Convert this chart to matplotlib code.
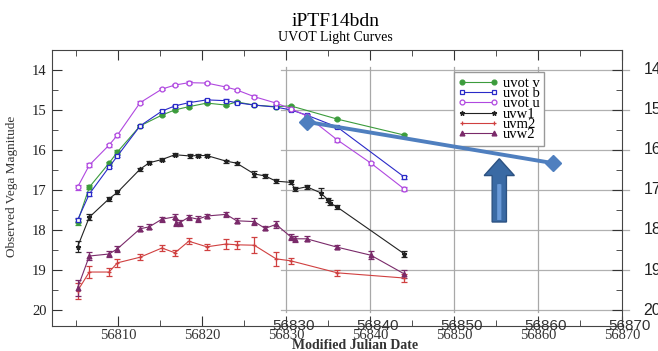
import matplotlib
matplotlib.use("Agg")
import matplotlib.pyplot as plt
from matplotlib.lines import Line2D
from matplotlib.patches import FancyArrow
from matplotlib.ticker import MultipleLocator

plt.rcParams["font.family"] = ["Liberation Serif", "DejaVu Serif"]

# epochs (MJD) and magnitudes
v_mjd = [56805.15, 56806.55, 56808.9, 56809.9, 56812.6, 56815.2, 56816.75, 56818.4,
         56820.55, 56822.85, 56824.1, 56826.2, 56828.8, 56830.55, 56836.1, 56844.1]
v_mag = [17.8, 16.93, 16.33, 16.05, 15.4, 15.13, 15.0, 14.92,
         14.83, 14.88, 14.8, 14.88, 14.92, 14.9, 15.23, 15.63]
v_err = [0.08, 0.05, 0.04, 0.04, 0.03, 0.03, 0.03, 0.03,
         0.03, 0.03, 0.03, 0.03, 0.03, 0.03, 0.03, 0.04]

b_mjd = [56805.15, 56806.55, 56808.9, 56809.9, 56812.6, 56815.2, 56816.75, 56818.4,
         56820.55, 56822.85, 56824.1, 56826.2, 56828.8, 56830.55, 56832.45, 56836.1, 56844.1]
b_mag = [17.75, 17.1, 16.43, 16.15, 15.4, 15.03, 14.9, 14.82,
         14.75, 14.77, 14.82, 14.88, 14.93, 15.0, 15.13, 15.43, 16.68]
b_err = [0.06, 0.04, 0.03, 0.03, 0.03, 0.03, 0.03, 0.03,
         0.03, 0.03, 0.03, 0.03, 0.03, 0.03, 0.03, 0.03, 0.04]

u_mjd = [56805.15, 56806.55, 56808.9, 56809.9, 56812.6, 56815.2, 56816.75, 56818.4,
         56820.55, 56822.85, 56824.1, 56826.2, 56828.8, 56830.55, 56832.45, 56836.1,
         56840.1, 56844.1]
u_mag = [16.93, 16.38, 15.88, 15.63, 14.82, 14.48, 14.38, 14.32,
         14.33, 14.43, 14.5, 14.67, 14.83, 14.97, 15.15, 15.75,
         16.33, 16.98]
u_err = [0.06, 0.05, 0.04, 0.04, 0.03, 0.03, 0.03, 0.03,
         0.03, 0.03, 0.03, 0.03, 0.03, 0.03, 0.03, 0.04,
         0.04, 0.05]

w1_mjd = [56805.15, 56806.55, 56808.9, 56809.9, 56812.6, 56813.7, 56815.2, 56816.75,
          56818.5, 56819.5, 56820.55, 56822.85, 56824.1, 56826.2, 56827.5, 56828.8,
          56830.55, 56831.1, 56832.45, 56834.1, 56835.0, 56835.2, 56836.1, 56844.1]
w1_mag = [18.42, 17.68, 17.22, 17.06, 16.48, 16.32, 16.24, 16.12,
          16.15, 16.14, 16.14, 16.28, 16.33, 16.6, 16.65, 16.78,
          16.81, 16.98, 16.92, 17.07, 17.25, 17.32, 17.43, 18.6]
w1_err = [0.14, 0.08, 0.05, 0.05, 0.04, 0.04, 0.04, 0.04,
          0.04, 0.04, 0.04, 0.04, 0.04, 0.07, 0.05, 0.05,
          0.05, 0.05, 0.05, 0.12, 0.06, 0.06, 0.05, 0.08]

m2_mjd = [56805.15, 56806.55, 56808.9, 56809.9, 56812.6, 56815.2, 56816.75, 56818.4,
          56820.55, 56822.85, 56824.1, 56826.2, 56828.8, 56830.55, 56836.1, 56844.1]
m2_mag = [19.52, 19.05, 19.05, 18.82, 18.68, 18.45, 18.57, 18.28,
          18.42, 18.35, 18.37, 18.38, 18.72, 18.77, 19.07, 19.2]
m2_err = [0.2, 0.15, 0.1, 0.1, 0.08, 0.07, 0.08, 0.07,
          0.08, 0.12, 0.1, 0.2, 0.17, 0.08, 0.08, 0.1]

w2_mjd = [56805.15, 56806.55, 56808.9, 56809.9, 56812.6, 56813.7, 56815.2, 56816.75,
          56816.9, 56817.3, 56818.4, 56819.5, 56820.55, 56822.85, 56824.1, 56826.2,
          56827.5, 56828.8, 56830.55, 56831.1, 56832.45, 56836.1, 56840.1, 56844.1]
w2_mag = [19.45, 18.65, 18.6, 18.47, 17.97, 17.92, 17.73, 17.67,
          17.82, 17.82, 17.68, 17.73, 17.65, 17.61, 17.77, 17.79,
          17.96, 17.86, 18.17, 18.22, 18.22, 18.43, 18.63, 19.1]
w2_err = [0.2, 0.1, 0.07, 0.07, 0.06, 0.06, 0.06, 0.06,
          0.08, 0.08, 0.06, 0.08, 0.06, 0.07, 0.06, 0.09,
          0.05, 0.08, 0.07, 0.07, 0.06, 0.05, 0.1, 0.1]

# pasted-in blue trend line and arrow
trend_mjd = [56832.5, 56861.8]
trend_mag = [15.3, 16.33]
arrow_x, arrow_base, arrow_tip = 56855.4, 17.8, 16.22

overlay_mags = [14, 15, 16, 17, 18, 19, 20]
overlay_days = [56830, 56840, 56850, 56860]
overlay_xlabels = [56830, 56840, 56850, 56860, 56870]

fig = plt.figure(figsize=(6.58, 3.51), dpi=100)
ax = fig.add_axes([0.079, 0.071, 0.866, 0.787])

# overlay grid (drawn first, underneath)
for m in overlay_mags:
    ax.plot([56829.4, 56870.8], [m, m], color="#b0b0b0", lw=0.9, zorder=1, clip_on=False)
for d in overlay_days:
    ax.plot([d, d], [13.92, 20.05], color="#a8a8a8", lw=0.9, zorder=1)

series = [
    ("uvot v", v_mjd, v_mag, v_err, "#3c9c3c", "o", "#3c9c3c"),
    ("uvot b", b_mjd, b_mag, b_err, "#2a2ac8", "s", "white"),
    ("uvot u", u_mjd, u_mag, u_err, "#b048e0", "o", "white"),
    ("uvw1", w1_mjd, w1_mag, w1_err, "#222222", "*", "#222222"),
    ("uvm2", m2_mjd, m2_mag, m2_err, "#d04040", "+", "#d04040"),
    ("uvw2", w2_mjd, w2_mag, w2_err, "#7a2a6a", "^", "#7a2a6a"),
]
handles = []
for name, x, y, e, c, mk, fc in series:
    ax.errorbar(x, y, yerr=e, color=c, marker=mk, mfc=fc, mec=c, ms=3.5, mew=0.9,
                lw=0.8, elinewidth=0.9, capsize=2, zorder=3)
    handles.append(Line2D([], [], color=c, marker=mk, mfc=fc, mec=c, ms=3.5, mew=0.9,
                          lw=0.8, label=name))

leg = ax.legend(handles=handles, loc="upper left", bbox_to_anchor=(0.692, 0.945),
                fontsize=10.5, numpoints=2, handlelength=2.8, handletextpad=0.3,
                labelspacing=-0.2, borderpad=0.3, fancybox=False, framealpha=1,
                edgecolor="#999999")
leg.set_zorder(5)

# blue trend line and arrow
ax.plot(trend_mjd, trend_mag, color="#4f7fbf", lw=2.8, marker="D", ms=8, zorder=6)
ax.add_patch(FancyArrow(arrow_x, arrow_base, 0, arrow_tip - arrow_base, width=1.7,
                        head_width=3.6, head_length=0.42, length_includes_head=True,
                        fc="#3a6aa4", ec="#2c5282", lw=1, zorder=6))
ax.add_patch(FancyArrow(arrow_x, arrow_base - 0.05, 0, -0.9, width=0.5,
                        head_width=0.5, head_length=0.01, length_includes_head=True,
                        fc="#6a9ad8", ec="none", zorder=7))

ax.set_xlim(56802.1, 56870)
ax.set_ylim(20.4, 13.5)
ax.xaxis.set_major_locator(MultipleLocator(10))
ax.xaxis.set_minor_locator(MultipleLocator(5))
ax.yaxis.set_major_locator(MultipleLocator(1))
ax.yaxis.set_minor_locator(MultipleLocator(0.5))
ax.tick_params(which="both", direction="in", top=True, right=True, labelsize=10.5,
               colors="#333333", labelcolor="#222222")
ax.tick_params(which="major", length=7, pad=4)
ax.tick_params(which="minor", length=4)
ax.set_xticklabels([])
for d in [56810, 56820, 56830, 56840, 56850, 56860, 56870]:
    ax.text(d, -0.012, str(d), transform=ax.get_xaxis_transform(), ha="center",
            va="top", fontsize=10.5, color="#333333")
for d in overlay_xlabels:
    ax.text(d + 0.9, 0.0, str(d), transform=ax.get_xaxis_transform(), ha="center",
            va="center", fontsize=11, color="#333333", family=["Liberation Sans"])
for m in overlay_mags:
    ax.text(56872.6, m, str(m), ha="left", va="center", fontsize=11.5, color="#222222",
            family=["Liberation Sans"], clip_on=False)
for s in ax.spines.values():
    s.set_color("#444444")

fig.text(0.51, 0.94, "iPTF14bdn", ha="center", va="center", fontsize=14)
fig.text(0.51, 0.893, "UVOT Light Curves", ha="center", va="center", fontsize=10)
fig.text(0.54, 0.016, "Modified Julian Date", ha="center", va="center", fontsize=10,
         fontweight="bold", color="#333333")
fig.text(0.018, 0.47, "Observed Vega Magnitude", ha="center", va="center", fontsize=9.5,
         rotation=90, color="#333333")

fig.savefig("out.png", dpi=100)
